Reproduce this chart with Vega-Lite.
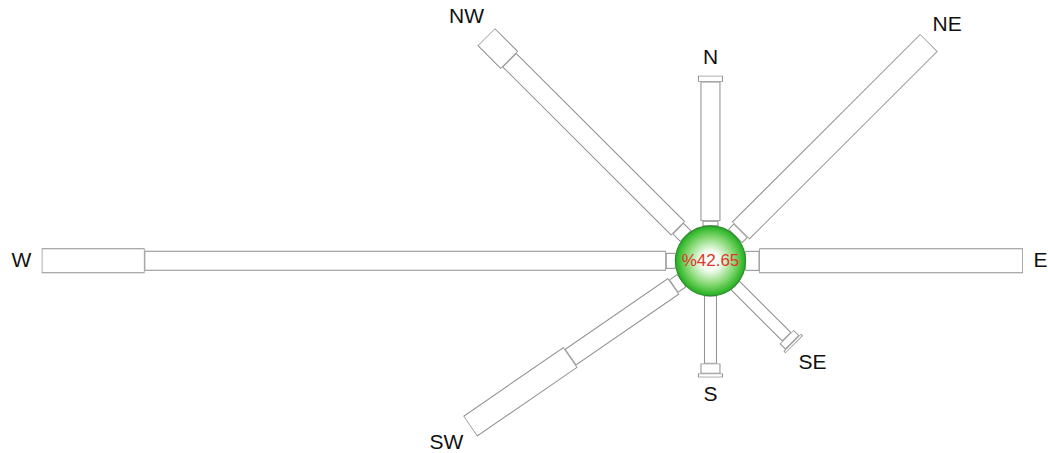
{
  "$schema": "https://vega.github.io/schema/vega-lite/v6.json",
  "width": 1048,
  "height": 453,
  "autosize": {"type": "fit", "contains": "padding"},
  "padding": 0,
  "background": "white",
  "config": {"view": {"stroke": null}},
  "datasets": {
    "rose": [
      {"dir": "N", "angle": 0, "cls": 2, "freq": 0.14},
      {"dir": "N", "angle": 0, "cls": 3, "freq": 3.92},
      {"dir": "N", "angle": 0, "cls": 4, "freq": 0.17},
      {"dir": "NE", "angle": 45, "cls": 3, "freq": 0.22},
      {"dir": "NE", "angle": 45, "cls": 4, "freq": 7.48},
      {"dir": "E", "angle": 90, "cls": 3, "freq": 0.39},
      {"dir": "E", "angle": 90, "cls": 4, "freq": 7.41},
      {"dir": "SE", "angle": 135, "cls": 1, "freq": 2.05},
      {"dir": "SE", "angle": 135, "cls": 3, "freq": 0.22},
      {"dir": "SE", "angle": 135, "cls": 4, "freq": 0.08},
      {"dir": "S", "angle": 180, "cls": 1, "freq": 1.91},
      {"dir": "S", "angle": 180, "cls": 3, "freq": 0.28},
      {"dir": "S", "angle": 180, "cls": 4, "freq": 0.11},
      {"dir": "SW", "angle": 235.4, "cls": 2, "freq": 0.28},
      {"dir": "SW", "angle": 235.4, "cls": 3, "freq": 3.52},
      {"dir": "SW", "angle": 235.4, "cls": 4, "freq": 3.42},
      {"dir": "W", "angle": 270, "cls": 2, "freq": 0.27},
      {"dir": "W", "angle": 270, "cls": 3, "freq": 14.65},
      {"dir": "W", "angle": 270, "cls": 4, "freq": 2.89},
      {"dir": "NW", "angle": 315, "cls": 2, "freq": 0.31},
      {"dir": "NW", "angle": 315, "cls": 3, "freq": 6.70},
      {"dir": "NW", "angle": 315, "cls": 4, "freq": 0.92}
    ],
    "calm": [{"calm": 42.65, "label": "%42.65"}]
  },
  "resolve": {"scale": {"strokeWidth": "independent"}},
  "layer": [
    {
      "data": {"name": "rose"},
      "transform": [
        {"stack": "freq", "groupby": ["dir"], "sort": [{"field": "cls", "order": "ascending"}], "as": ["r0", "r1"]},
        {"calculate": "datum.angle*PI/180", "as": "a"},
        {"calculate": "(0.98+datum.r0)*sin(datum.a)", "as": "x0"},
        {"calculate": "(0.98+datum.r0)*cos(datum.a)", "as": "y0"},
        {"calculate": "(0.98+datum.r1)*sin(datum.a)", "as": "x1"},
        {"calculate": "(0.98+datum.r1)*cos(datum.a)", "as": "y1"}
      ],
      "mark": {"type": "rule", "strokeCap": "butt", "stroke": "#8e8e8e"},
      "encoding": {
        "x": {"field": "x0", "type": "quantitative", "scale": {"domain": [-19.963, 9.4], "nice": false, "zero": false}, "axis": null},
        "y": {"field": "y0", "type": "quantitative", "scale": {"domain": [-5.352, 7.341], "nice": false, "zero": false}, "axis": null},
        "x2": {"field": "x1"},
        "y2": {"field": "y1"},
        "strokeWidth": {"field": "cls", "type": "ordinal", "scale": {"type": "ordinal", "domain": [1, 2, 3, 4], "range": [13, 16, 20, 25]}, "legend": null}
      }
    },
    {
      "data": {"name": "rose"},
      "transform": [
        {"stack": "freq", "groupby": ["dir"], "sort": [{"field": "cls", "order": "ascending"}], "as": ["r0", "r1"]},
        {"calculate": "datum.angle*PI/180", "as": "a"},
        {"calculate": "(0.98+datum.r0+0.02)*sin(datum.a)", "as": "x0"},
        {"calculate": "(0.98+datum.r0+0.02)*cos(datum.a)", "as": "y0"},
        {"calculate": "(0.98+datum.r1-0.02)*sin(datum.a)", "as": "x1"},
        {"calculate": "(0.98+datum.r1-0.02)*cos(datum.a)", "as": "y1"}
      ],
      "mark": {"type": "rule", "strokeCap": "butt", "stroke": "#ffffff"},
      "encoding": {
        "x": {"field": "x0", "type": "quantitative"},
        "y": {"field": "y0", "type": "quantitative"},
        "x2": {"field": "x1"},
        "y2": {"field": "y1"},
        "strokeWidth": {"field": "cls", "type": "ordinal", "scale": {"type": "ordinal", "domain": [1, 2, 3, 4], "range": [11, 14, 18, 23]}, "legend": null}
      }
    },
    {
      "data": {"name": "rose"},
      "transform": [
        {"aggregate": [{"op": "sum", "field": "freq", "as": "total"}], "groupby": ["dir", "angle"]},
        {"calculate": "datum.angle*PI/180", "as": "a"},
        {"calculate": "0.98+datum.total+(10+abs(sin(datum.a))*(7.5*length(datum.dir)+(indexof(datum.dir,'W')>=0?3:0))+abs(cos(datum.a))*7.5)/35.69", "as": "lr"},
        {"calculate": "datum.lr*sin(datum.a)", "as": "lx"},
        {"calculate": "datum.lr*cos(datum.a)", "as": "ly"}
      ],
      "mark": {"type": "text", "font": "Liberation Sans", "fontSize": 21, "fill": "#111111", "align": "center", "baseline": "middle"},
      "encoding": {
        "x": {"field": "lx", "type": "quantitative"},
        "y": {"field": "ly", "type": "quantitative"},
        "text": {"field": "dir", "type": "nominal"}
      }
    },
    {
      "data": {"name": "calm"},
      "mark": {
        "type": "point",
        "filled": true,
        "opacity": 1,
        "size": 4900,
        "shape": "circle",
        "fill": {
          "gradient": "radial",
          "x1": 0.5, "y1": 0.5, "r1": 0,
          "x2": 0.5, "y2": 0.5, "r2": 0.5,
          "stops": [
            {"offset": 0, "color": "#ffffff"},
            {"offset": 0.3, "color": "#f0fbed"},
            {"offset": 0.7, "color": "#7fd66c"},
            {"offset": 1, "color": "#22b01f"}
          ]
        },
        "stroke": "#2c8a2c",
        "strokeWidth": 1.2
      },
      "encoding": {
        "x": {"datum": 0, "type": "quantitative"},
        "y": {"datum": 0, "type": "quantitative"}
      }
    },
    {
      "data": {"name": "calm"},
      "mark": {"type": "text", "font": "Liberation Sans", "fontSize": 17, "fill": "#e0352b", "align": "center", "baseline": "middle"},
      "encoding": {
        "x": {"datum": 0, "type": "quantitative"},
        "y": {"datum": 0, "type": "quantitative"},
        "text": {"field": "label", "type": "nominal"}
      }
    }
  ]
}
